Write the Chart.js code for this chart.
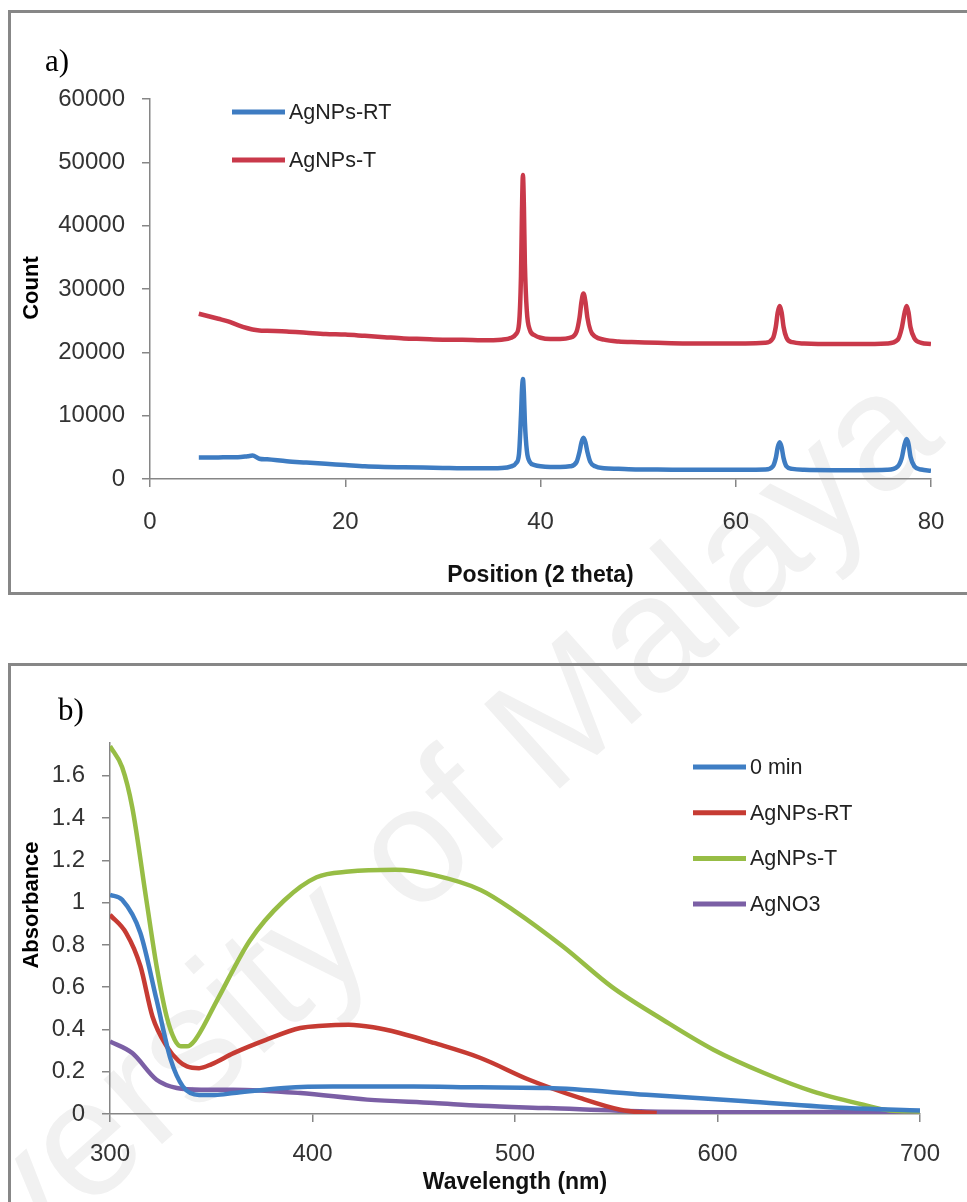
<!DOCTYPE html>
<html>
<head>
<meta charset="utf-8">
<script src="https://cdn.jsdelivr.net/npm/chart.js@4.4.1/dist/chart.umd.min.js"></script>
<style>
  html, body { margin: 0; padding: 0; background: #fff; }
  #page { position: relative; width: 967px; height: 1202px; overflow: hidden; }
  .frame { position: absolute; border: 3px solid #878787; box-sizing: border-box; }
  #watermark { position: absolute; left: 0; top: 0; }
  canvas { position: absolute; left: 0; }
</style>
</head>
<body>
<div id="page">
  <svg id="watermark" width="967" height="1202"><text x="-161" y="1433" transform="rotate(-41.8 -161 1433)" font-family="Liberation Sans, Arial, sans-serif" font-size="165" fill="#f1f1f1">University of Malaya</text></svg>
  <div class="frame" style="left:8px;top:10px;width:1000px;height:585px;"></div>
  <div class="frame" style="left:8px;top:663px;width:1000px;height:600px;"></div>
  <canvas id="xrd" width="967" height="600" style="top:0"></canvas>
  <canvas id="uv" width="967" height="602" style="top:600px"></canvas>
</div>
<script>
// ---- a) XRD pattern ----
const xrdTheta = [5, 6, 7, 8, 9, 10, 10.5, 11.2, 12, 14, 16, 18, 20, 22, 24, 26, 28, 30, 32, 34, 36,
  37, 37.5, 37.8, 38.0, 38.1, 38.2, 38.3, 38.4, 38.6, 38.9, 39.4, 40, 41, 42,
  43, 43.7, 44.0, 44.2, 44.4, 44.6, 44.8, 45.1, 45.6, 46.5, 48, 50, 52, 55, 58, 61,
  63, 63.8, 64.1, 64.3, 64.5, 64.7, 64.9, 65.2, 65.8, 67, 70, 73,
  75.5, 76.6, 77.0, 77.3, 77.5, 77.7, 77.9, 78.3, 79, 80];
const xrdRT = [3400, 3400, 3400, 3450, 3450, 3600, 3700, 3200, 3100, 2800, 2600, 2400, 2200, 2000, 1900, 1850, 1800, 1750, 1700, 1700, 1750,
  2000, 2500, 4000, 10000, 14000, 15800, 13500, 9000, 4500, 2700, 2200, 2000, 1900, 1900,
  2000, 2700, 4300, 5800, 6500, 5800, 4300, 2700, 2000, 1700, 1600, 1500, 1500, 1450, 1450, 1450,
  1500, 2000, 3300, 5000, 5800, 5000, 3300, 2000, 1600, 1450, 1400, 1400,
  1450, 2000, 3300, 5500, 6300, 5500, 3500, 2000, 1500, 1300];
const xrdT = [26100, 25700, 25300, 24900, 24300, 23800, 23600, 23450, 23400, 23300, 23100, 22900, 22800, 22600, 22400, 22200, 22100, 22000, 22000, 21900, 22000,
  22300, 22900, 24500, 32000, 42000, 48000, 43000, 34000, 26500, 23600, 22700, 22300, 22100, 22100,
  22300, 23300, 25500, 28000, 29300, 28000, 25500, 23500, 22500, 22000, 21700, 21600, 21500, 21400, 21400, 21400,
  21500, 22200, 24000, 26300, 27300, 26300, 24000, 22300, 21600, 21400, 21300, 21300,
  21400, 22000, 23800, 26300, 27300, 26300, 24000, 22200, 21500, 21300];
const xrdXTicks = [0, 20, 40, 60, 80];
const xrdXLabels = ['0', '20', '40', '60', '80'];
const xrdYTicks = [0, 10000, 20000, 30000, 40000, 50000, 60000];
const xrdYLabels = ['0', '10000', '20000', '30000', '40000', '50000', '60000'];

// ---- b) UV-vis spectra ----
const uv0minNm = [300, 306, 315, 323, 330, 336, 344, 352, 361, 386, 410, 450, 483, 516, 565, 614, 664, 700];
const uv0min = [1.037, 1.013, 0.856, 0.54, 0.257, 0.13, 0.09, 0.09, 0.099, 0.123, 0.13, 0.13, 0.126, 0.123, 0.091, 0.06, 0.028, 0.017];
const uvRTNm = [300, 308, 315, 321, 328, 334, 338, 344, 350, 361, 377, 394, 405, 418, 430, 443, 460, 483, 507, 532, 552, 562, 570];
const uvRT = [0.942, 0.856, 0.70, 0.46, 0.32, 0.25, 0.225, 0.217, 0.235, 0.288, 0.351, 0.407, 0.418, 0.422, 0.41, 0.383, 0.336, 0.265, 0.162, 0.076, 0.02, 0.008, 0.005];
const uvTNm = [300, 306, 311, 318, 323, 328, 332, 335, 338, 342, 353, 369, 386, 402, 418, 441, 460, 483, 499, 524, 548, 573, 598, 623, 647, 672, 685, 700];
const uvT = [1.74, 1.64, 1.45, 1.01, 0.70, 0.46, 0.35, 0.32, 0.32, 0.35, 0.54, 0.82, 1.01, 1.12, 1.147, 1.155, 1.13, 1.06, 0.966, 0.79, 0.60, 0.446, 0.304, 0.194, 0.107, 0.044, 0.017, 0.012];
const uvNO3Nm = [300, 311, 323, 333, 345, 361, 394, 427, 460, 483, 516, 565, 631, 700];
const uvNO3 = [0.343, 0.288, 0.162, 0.123, 0.115, 0.115, 0.099, 0.068, 0.052, 0.039, 0.028, 0.012, 0.008, 0.012];
const uvXTicks = [300, 400, 500, 600, 700];
const uvXLabels = ['300', '400', '500', '600', '700'];
const uvYTicks = [0, 0.2, 0.4, 0.6, 0.8, 1, 1.2, 1.4, 1.6];
const uvYLabels = ['0', '0.2', '0.4', '0.6', '0.8', '1', '1.2', '1.4', '1.6'];

const SANS = "'Liberation Sans', Arial, sans-serif";
const SERIF = "'Liberation Serif', 'Times New Roman', serif";
const gray = '#868686';

function pts(xs, ys) { return xs.map((x, i) => ({ x: x, y: ys[i] })); }

function axis(min, max, ticks, labels, pad, fit, title) {
  const a = {
    type: 'linear', min: min, max: max,
    afterBuildTicks: s => { s.ticks = ticks.map(v => ({ value: v })); },
    afterFit: fit,
    ticks: { callback: (v, i) => labels[i], color: '#333', font: { family: SANS, size: 24 },
             padding: pad, maxRotation: 0, autoSkip: false },
    grid: { drawOnChartArea: false, drawTicks: true, tickLength: 8, color: gray, lineWidth: 1.5 },
    border: { color: gray, width: 1.5 }
  };
  if (title) a.title = title;
  return a;
}

// panel letter, rotated y title and the legend inside the plot
const overlay = {
  id: 'overlay',
  afterDraw(chart, args, o) {
    const ctx = chart.ctx, area = chart.chartArea;
    ctx.save();
    ctx.fillStyle = '#000';
    ctx.textBaseline = 'middle';
    ctx.textAlign = 'left';
    ctx.font = '31px ' + SERIF;
    ctx.fillText(o.letter, o.letterX, o.letterY);
    ctx.save();
    ctx.translate(o.yTitleX, o.yTitleY);
    ctx.rotate(-Math.PI / 2);
    ctx.textAlign = 'center';
    ctx.font = 'bold 22px ' + SANS;
    ctx.fillText(o.yTitle, 0, 0);
    ctx.restore();
    ctx.font = '21.5px ' + SANS;
    chart.data.datasets.forEach((ds, i) => {
      const y = area.top + o.legendTop + i * o.legendGap;
      const x0 = area.left + o.legendLeft;
      ctx.strokeStyle = ds.borderColor;
      ctx.lineWidth = 5;
      ctx.beginPath();
      ctx.moveTo(x0, y);
      ctx.lineTo(x0 + 53, y);
      ctx.stroke();
      ctx.fillStyle = '#222';
      ctx.fillText(ds.label, x0 + 57, y + 1);
    });
    ctx.restore();
  }
};

new Chart(document.getElementById('xrd'), {
  type: 'scatter',
  data: {
    datasets: [
      { label: 'AgNPs-RT', data: pts(xrdTheta, xrdRT), borderColor: '#3E7CC2', backgroundColor: '#3E7CC2' },
      { label: 'AgNPs-T', data: pts(xrdTheta, xrdT), borderColor: '#C9394A', backgroundColor: '#C9394A' }
    ]
  },
  options: {
    responsive: false,
    animation: false,
    showLine: true,
    elements: { point: { radius: 0 }, line: { borderWidth: 4.5, cubicInterpolationMode: 'monotone' } },
    layout: { padding: { left: 0, top: 99, right: 36, bottom: 0 } },
    scales: {
      x: axis(0, 80, xrdXTicks, xrdXLabels, 21, s => { s.height = 121; },
        { display: true, text: 'Position (2 theta)', color: '#111', font: { family: SANS, size: 23, weight: 'bold' }, padding: { top: 0, bottom: 11 } }),
      y: axis(0, 60000, xrdYTicks, xrdYLabels, 17, s => { s.width = 150; })
    },
    plugins: {
      legend: { display: false },
      tooltip: { enabled: false },
      overlay: { letter: 'a)', letterX: 45, letterY: 63, yTitle: 'Count', yTitleX: 32, yTitleY: 288,
                 legendLeft: 82, legendTop: 13, legendGap: 48 }
    }
  },
  plugins: [overlay]
});

new Chart(document.getElementById('uv'), {
  type: 'scatter',
  data: {
    datasets: [
      { label: '0 min', data: pts(uv0minNm, uv0min), borderColor: '#3F7EC4', backgroundColor: '#3F7EC4' },
      { label: 'AgNPs-RT', data: pts(uvRTNm, uvRT), borderColor: '#C63B33', backgroundColor: '#C63B33' },
      { label: 'AgNPs-T', data: pts(uvTNm, uvT), borderColor: '#97BD45', backgroundColor: '#97BD45' },
      { label: 'AgNO3', data: pts(uvNO3Nm, uvNO3), borderColor: '#7B5FA5', backgroundColor: '#7B5FA5' }
    ]
  },
  options: {
    responsive: false,
    animation: false,
    showLine: true,
    elements: { point: { radius: 0 }, line: { borderWidth: 4.5, cubicInterpolationMode: 'monotone' } },
    layout: { padding: { left: 0, top: 143, right: 47, bottom: 0 } },
    scales: {
      x: axis(300, 700, uvXTicks, uvXLabels, 18, s => { s.height = 88; },
        { display: true, text: 'Wavelength (nm)', color: '#111', font: { family: SANS, size: 23, weight: 'bold' }, padding: { top: 0, bottom: 6 } }),
      y: axis(0, 1.755, uvYTicks, uvYLabels, 17, s => { s.width = 110; })
    },
    plugins: {
      legend: { display: false },
      tooltip: { enabled: false },
      overlay: { letter: 'b)', letterX: 58, letterY: 112, yTitle: 'Absorbance', yTitleX: 32, yTitleY: 305,
                 legendLeft: 583, legendTop: 24, legendGap: 45.7 }
    }
  },
  plugins: [overlay]
});
</script>
</body>
</html>
